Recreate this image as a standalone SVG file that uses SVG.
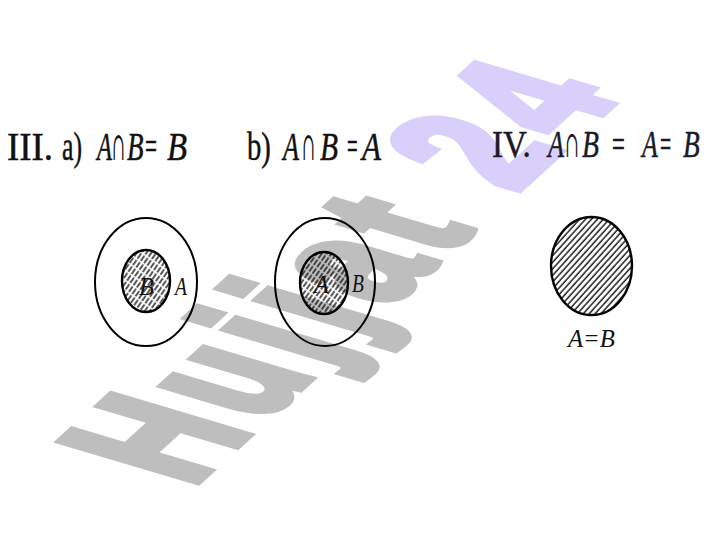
<svg xmlns="http://www.w3.org/2000/svg" width="720" height="540" viewBox="0 0 720 540">
<style>
.r{font-family:"Liberation Serif","Times New Roman",serif;font-size:41px;fill:#111;stroke:#111;stroke-width:0.5}
.i{font-family:"Liberation Serif","Times New Roman",serif;font-size:41px;font-style:italic;fill:#111;stroke:#111;stroke-width:0.5}
.c{font-family:"DejaVu Serif","DejaVu Sans",serif;font-size:40px;fill:#111}
.r4{font-family:"Liberation Serif","Times New Roman",serif;font-size:38px;fill:#1a1a2a;stroke:#1a1a2a;stroke-width:0.5}
.i4{font-family:"Liberation Serif","Times New Roman",serif;font-size:38px;font-style:italic;fill:#1a1a2a;stroke:#1a1a2a;stroke-width:0.5}
.c4{font-family:"DejaVu Serif","DejaVu Sans",serif;font-size:37px;fill:#1a1a2a}
.lbl{font-family:"Liberation Serif","Times New Roman",serif;font-size:25px;font-style:italic;fill:#111}
.outer{fill:none;stroke:#000;stroke-width:2}
.inner{stroke:#000;stroke-width:2.4}
.wm{font-family:"Liberation Sans",Arial,sans-serif;font-weight:bold;font-size:100px;letter-spacing:9px;stroke-width:6;stroke-linejoin:miter}
</style>
<defs>
<pattern id="hatchSmall" patternUnits="userSpaceOnUse" width="4" height="8" patternTransform="rotate(35)">
<line x1="1" y1="0" x2="1" y2="8" stroke="#000" stroke-width="1.3" stroke-dasharray="5 1.5"/>
</pattern>
<pattern id="hatchBig" patternUnits="userSpaceOnUse" width="4.4" height="10" patternTransform="rotate(42)">
<rect width="4.4" height="10" fill="#fff"/>
<line x1="1" y1="0" x2="1" y2="10" stroke="#000" stroke-width="1.3"/>
</pattern>
</defs>
<rect width="720" height="540" fill="#fff"/>

<g id="watermark" transform="matrix(0.88,-0.80,1.95,0.58,190,487)">
<text class="wm" x="0" y="0"><tspan fill="#bebebe" stroke="#bebebe">Hujjat</tspan><tspan fill="#d8cffb" stroke="#d8cffb"> 24</tspan></text>
</g>

<g id="header-III">
<text class="r" transform="translate(7,160) scale(0.9,1)">III.</text>
<text class="r" transform="translate(62,160) scale(0.63,1)">a)</text>
<text class="i" transform="translate(97,160) scale(0.6,1)">A</text>
<text class="c" transform="translate(112,160) scale(0.39,1)">∩</text>
<text class="i" transform="translate(127,160) scale(0.66,1)">B</text>
<text class="r" transform="translate(145,160) scale(0.52,1)">=</text>
<text class="i" transform="translate(167,160) scale(0.8,1)">B</text>
</g>
<g id="header-b">
<text class="r" transform="translate(247,160) scale(0.7,1)">b)</text>
<text class="i" transform="translate(283,160) scale(0.64,1)">A</text>
<text class="c" transform="translate(302,160) scale(0.39,1)">∩</text>
<text class="i" transform="translate(320,160) scale(0.72,1)">B</text>
<text class="r" transform="translate(347,160) scale(0.46,1)">=</text>
<text class="i" transform="translate(362,160) scale(0.76,1)">A</text>
</g>
<g id="header-IV">
<text class="r4" transform="translate(492,157) scale(0.87,1)">IV.</text>
<text class="i4" transform="translate(548,157) scale(0.69,1)">A</text>
<text class="c4" transform="translate(565,157) scale(0.45,1)">∩</text>
<text class="i4" transform="translate(582,157) scale(0.73,1)">B</text>
<text class="r4" transform="translate(612,157) scale(0.6,1)">=</text>
<text class="i4" transform="translate(642,157) scale(0.68,1)">A</text>
<text class="r4" transform="translate(660,157) scale(0.52,1)">=</text>
<text class="i4" transform="translate(683,157) scale(0.72,1)">B</text>
</g>

<g id="diagram-a">
<ellipse class="outer" cx="146" cy="282" rx="51" ry="64"/>
<ellipse class="inner" cx="146" cy="281" rx="24" ry="31" fill="url(#hatchSmall)"/>
<text class="lbl" transform="translate(139,295) scale(0.98,1)">B</text>
<text class="lbl" transform="translate(175,295) scale(0.78,1)">A</text>
</g>
<g id="diagram-b">
<ellipse class="outer" cx="325" cy="282" rx="50" ry="64"/>
<ellipse class="inner" cx="324" cy="283" rx="24" ry="31" fill="url(#hatchSmall)"/>
<text class="lbl" transform="translate(314,293) scale(0.98,1)">A</text>
<text class="lbl" transform="translate(352,292) scale(0.78,1)">B</text>
</g>
<g id="diagram-IV">
<ellipse class="inner" cx="591.5" cy="266" rx="40.5" ry="49" fill="url(#hatchBig)"/>
<text class="lbl" transform="translate(568,347) scale(0.99,1)">A=B</text>
</g>
<g id="connectors"/>
</svg>
